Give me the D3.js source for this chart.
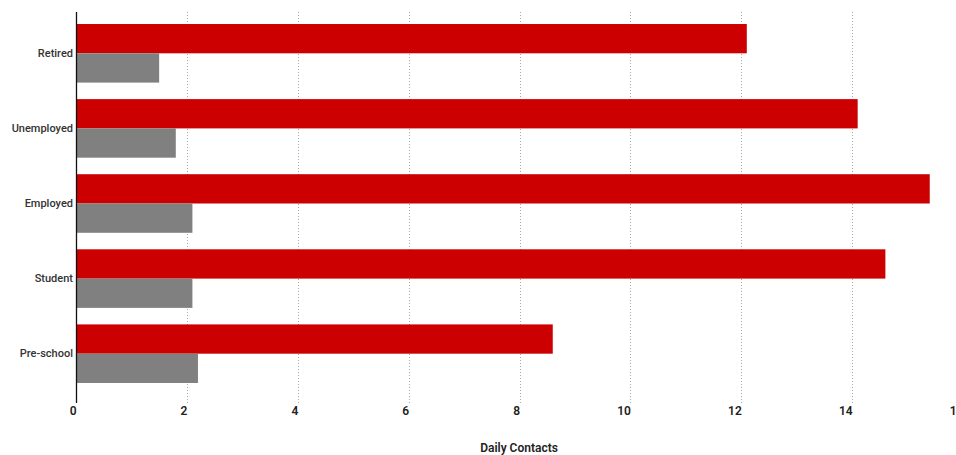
<!DOCTYPE html>
<html>
<head>
<meta charset="utf-8">
<script src="https://cdn.jsdelivr.net/npm/d3@7/dist/d3.min.js"></script>
<style>
  html, body { margin: 0; padding: 0; background: #fff; }
  svg { display: block; }
  text { font-family: Roboto, "Noto Sans", sans-serif; }
</style>
</head>
<body>
<svg id="chart" width="956" height="455"></svg>
<script>
// Occupation groups, top to bottom
const categories = ["Retired", "Unemployed", "Employed", "Student", "Pre-school"];
// Two series per group: red bar on top, grey bar below
const seriesNames = ["Series A", "Series B"];
const seriesA = [12.1, 14.1, 15.4, 14.6, 8.6];
const seriesB = [1.5, 1.8, 2.1, 2.1, 2.2];
const xTicks = [0, 2, 4, 6, 8, 10, 12, 14, 16];
const xTitle = "Daily Contacts";
const colors = ["#cc0000", "#808080"];

const rows = categories.map((c, i) => ({ category: c, values: [seriesA[i], seriesB[i]] }));

const svg = d3.select("#chart");
const plotTop = 12, plotBottom = 403;

const x = d3.scaleLinear().domain([0, 16]).range([76, 963]);

const y = d3.scaleBand()
  .domain(categories)
  .range([9, 398])
  .paddingInner(0.22)
  .paddingOuter(0.2);

const yInner = d3.scaleBand()
  .domain(seriesNames)
  .range([0, y.bandwidth()]);

// Dotted vertical gridlines
svg.append("g")
  .selectAll("line")
  .data(xTicks.filter(d => d > 0))
  .join("line")
  .attr("x1", d => Math.round(x(d)) + 0.5)
  .attr("x2", d => Math.round(x(d)) + 0.5)
  .attr("y1", plotTop)
  .attr("y2", plotBottom)
  .attr("stroke", "#a8a8a8")
  .attr("stroke-width", 1)
  .attr("stroke-dasharray", "1,2");

// Bars
const groups = svg.append("g")
  .selectAll("g")
  .data(rows)
  .join("g")
  .attr("transform", d => `translate(0,${y(d.category)})`);

groups.selectAll("rect")
  .data(d => d.values.map((v, i) => ({ key: seriesNames[i], value: v, i })))
  .join("rect")
  .attr("x", x(0))
  .attr("y", d => yInner(d.key))
  .attr("width", d => x(d.value) - x(0))
  .attr("height", yInner.bandwidth())
  .attr("fill", d => colors[d.i]);

// X axis tick labels (right-aligned to each tick)
const xAxis = d3.axisBottom(x).tickValues(xTicks).tickSize(0).tickPadding(0);
const gx = svg.append("g")
  .attr("transform", `translate(0,${plotBottom})`)
  .call(xAxis);
gx.select(".domain").remove();
gx.selectAll("text")
  .attr("text-anchor", "end")
  .attr("dy", null)
  .attr("y", 12)
  .attr("fill", "#222")
  .style("font-size", "12px")
  .style("font-weight", 600);

// Y axis line and category labels
const yAxis = d3.axisLeft(y).tickSize(0).tickPadding(3);
const gy = svg.append("g")
  .attr("transform", `translate(${x(0)},0)`)
  .call(yAxis);
gy.select(".domain").remove();
gy.selectAll("text")
  .attr("fill", "#333")
  .style("font-size", "11px")
  .style("font-weight", 500);

svg.append("line")
  .attr("x1", x(0) + 0.5).attr("x2", x(0) + 0.5)
  .attr("y1", plotTop).attr("y2", plotBottom)
  .attr("stroke", "#111")
  .attr("stroke-width", 1.3);

// Axis title
svg.append("text")
  .attr("x", 519)
  .attr("y", 452)
  .attr("text-anchor", "middle")
  .attr("fill", "#222")
  .style("font-size", "12px")
  .style("font-weight", 600)
  .text(xTitle);
</script>
</body>
</html>
